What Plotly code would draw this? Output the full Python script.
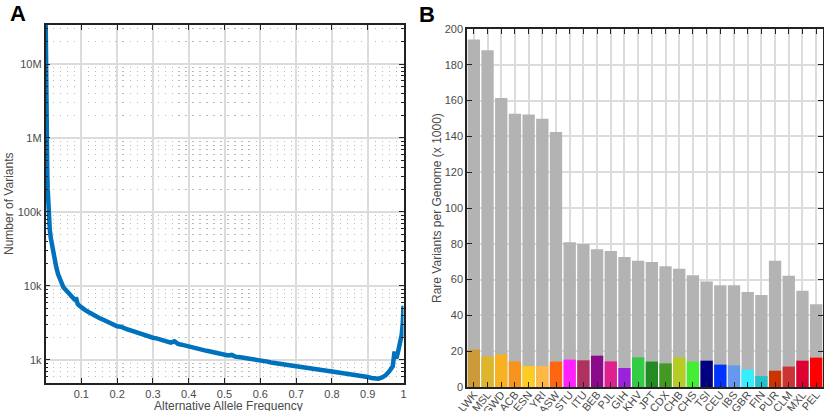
import plotly.graph_objects as go

# ---------------- Panel A: allele frequency spectrum ----------------
allele_freq = [
    0.0005, 0.001, 0.0015, 0.002, 0.003, 0.004, 0.005, 0.006, 0.008, 0.010,
    0.012, 0.015, 0.018, 0.021, 0.025, 0.030, 0.035, 0.040, 0.045, 0.050,
    0.055, 0.060, 0.065, 0.070, 0.075, 0.080, 0.083, 0.085, 0.088, 0.090,
    0.095, 0.10, 0.11, 0.12, 0.13, 0.14, 0.15, 0.16, 0.17, 0.18,
    0.19, 0.20, 0.21, 0.22, 0.23, 0.24, 0.25, 0.26, 0.27, 0.28,
    0.29, 0.30, 0.31, 0.32, 0.33, 0.34, 0.35, 0.36, 0.37, 0.38,
    0.39, 0.40, 0.41, 0.42, 0.43, 0.44, 0.45, 0.46, 0.47, 0.48,
    0.49, 0.50, 0.51, 0.52, 0.53, 0.54, 0.55, 0.56, 0.57, 0.58,
    0.59, 0.60, 0.61, 0.62, 0.63, 0.64, 0.65, 0.66, 0.67, 0.68,
    0.69, 0.70, 0.71, 0.72, 0.73, 0.74, 0.75, 0.76, 0.77, 0.78,
    0.79, 0.80, 0.81, 0.82, 0.83, 0.84, 0.85, 0.86, 0.87, 0.88,
    0.89, 0.90, 0.91, 0.92, 0.93, 0.94, 0.95, 0.96, 0.97, 0.975,
    0.98, 0.985, 0.99, 0.995, 0.998, 1.0,
]
variant_count = [
    36000000, 11000000, 4200000, 2300000, 1000000, 560000, 330000, 210000, 105000, 72000,
    57000, 44000, 36000, 30000, 24000, 18000, 14500, 12500, 10800, 9600,
    9000, 8500, 8000, 7600, 7100, 6500, 6400, 7000, 6000, 5700,
    5400, 5100, 4750, 4450, 4150, 3950, 3700, 3520, 3330, 3180,
    3000, 2850, 2820, 2650, 2580, 2500, 2400, 2330, 2250, 2170,
    2060, 2000, 1960, 1890, 1860, 1790, 1720, 1790, 1650, 1610,
    1560, 1510, 1480, 1440, 1400, 1370, 1330, 1300, 1270, 1240,
    1210, 1180, 1150, 1170, 1110, 1095, 1080, 1055, 1040, 1015,
    1000, 990, 965, 950, 925, 912, 890, 880, 862, 852,
    838, 830, 812, 800, 785, 775, 760, 752, 733, 722,
    712, 700, 690, 672, 662, 652, 640, 632, 620, 612,
    600, 590, 572, 566, 560, 580, 620, 700, 820, 1300,
    1050, 1300, 1600, 2200, 3200, 5400,
]
freq_ticks = [0.1, 0.2, 0.3, 0.4, 0.5, 0.6, 0.7, 0.8, 0.9, 1.0]
freq_tick_text = ["0.1", "0.2", "0.3", "0.4", "0.5", "0.6", "0.7", "0.8", "0.9", "1"]
count_ticks = [1e3, 1e4, 1e5, 1e6, 1e7]
count_tick_text = ["1k", "10k", "100k", "1M", "10M"]

# ---------------- Panel B: rare variants per genome ----------------
populations = [
    "LWK", "MSL", "GWD", "ACB", "ESN", "YRI", "ASW", "STU", "ITU", "BEB",
    "PJL", "GIH", "KHV", "JPT", "CDX", "CHB", "CHS", "TSI", "CEU", "IBS",
    "GBR", "FIN", "PUR", "CLM", "MXL", "PEL",
]
rare_total = [
    194.1, 188.1, 161.5, 152.7, 152.3, 149.9, 142.5, 80.8, 79.9, 76.9,
    76.0, 72.6, 70.6, 69.8, 67.4, 66.1, 62.4, 59.0, 56.8, 56.8,
    53.1, 51.4, 70.6, 62.2, 53.8, 46.2,
]
rare_private = [
    20.9, 17.1, 18.2, 14.3, 11.7, 11.7, 14.2, 15.3, 14.9, 17.5,
    14.3, 10.6, 16.6, 14.2, 13.2, 16.6, 14.2, 14.7, 12.5, 12.1,
    9.7, 6.1, 9.1, 11.4, 14.7, 16.4,
]
pop_colors = [
    "#CD9A3A", "#DDB62E", "#F8B220", "#F6941E", "#FECB22", "#FFB845", "#FF6611",
    "#FF22FF", "#B03060", "#8B0A8B", "#E0208F", "#9A22DD", "#33CC44", "#228B22",
    "#449922", "#B5CC22", "#44EE33", "#000080", "#0033FF", "#6699EE", "#33EEFF",
    "#22C4CC", "#CC3300", "#CC3333", "#DD0033", "#FF0000",
]
rare_ticks = list(range(0, 201, 20))

W, H = 824, 411
FONT = "Liberation Sans, Arial, Helvetica, sans-serif"
TICK_FONT = dict(family=FONT, size=11, color="#4a4a4a")


def px_x(p):
    return p / W


def px_y(p):
    return 1 - p / H


fig = go.Figure()

fig.add_trace(go.Scatter(
    x=allele_freq, y=variant_count, mode="lines",
    line=dict(color="#0072BD", width=4.5),
    xaxis="x", yaxis="y", showlegend=False,
))

fig.add_trace(go.Bar(
    x=populations, y=rare_total, marker=dict(color="#B3B3B3", line=dict(width=0)),
    xaxis="x2", yaxis="y2", showlegend=False,
))
fig.add_trace(go.Bar(
    x=populations, y=rare_private, marker=dict(color=pop_colors, line=dict(width=0)),
    xaxis="x2", yaxis="y2", showlegend=False,
))

# log-scale minor ticks (2..9 within each decade)
minor_vals = []
for e in range(2, 8):
    for m in range(2, 10):
        minor_vals.append(m * 10 ** e)

axis_common = dict(
    showline=True, linecolor="#222222", linewidth=1.5, mirror="ticks",
    ticks="inside", ticklen=5, tickcolor="#222222", tickwidth=1.2,
    tickfont=TICK_FONT, zeroline=False, automargin=False,
    gridcolor="#DCDCDC", gridwidth=1.5,
)

fig.update_layout(
    width=W, height=H,
    margin=dict(l=0, r=0, t=0, b=0, autoexpand=False),
    paper_bgcolor="white", plot_bgcolor="white",
    barmode="overlay", bargap=0.1,
    xaxis=dict(
        domain=[px_x(45.5), px_x(403.5)], anchor="y",
        range=[0, 1], tickmode="array", tickvals=freq_ticks, ticktext=freq_tick_text,
        showgrid=True, **axis_common,
    ),
    yaxis=dict(
        domain=[px_y(383), px_y(25)], anchor="x",
        type="log", range=[2.689, 7.527],
        tickmode="array", tickvals=count_ticks, ticktext=count_tick_text,
        showgrid=True,
        minor=dict(
            tickmode="array", tickvals=minor_vals, ticks="inside", ticklen=3,
            tickcolor="#222222", showgrid=True, gridcolor="#B8B8B8",
            griddash="1.5px,5.5px", gridwidth=1.2,
        ),
        **axis_common,
    ),
    xaxis2=dict(
        domain=[px_x(467), px_x(823)], anchor="y2",
        range=[-0.5, len(populations) - 0.5], tickangle=-50,
        ticklabelstandoff=-5,
        showgrid=True, **{**axis_common, "linewidth": 2},
    ),
    yaxis2=dict(
        domain=[px_y(387), px_y(29)], anchor="x2",
        range=[0, 200], tickmode="array", tickvals=rare_ticks,
        showgrid=True, **axis_common,
    ),
)

annotations = [
    dict(text="<b>A</b>", x=px_x(18), y=px_y(14), font=dict(family=FONT, size=22, color="black")),
    dict(text="<b>B</b>", x=px_x(427), y=px_y(15), font=dict(family=FONT, size=22, color="black")),
    dict(text="Alternative Allele Frequency", x=px_x(228), y=px_y(406),
         font=dict(family=FONT, size=12, color="#4a4a4a")),
    dict(text="Number of Variants", x=px_x(9), y=px_y(204), textangle=-90,
         font=dict(family=FONT, size=12, color="#4a4a4a")),
    dict(text="Rare Variants per Genome (x 1000)", x=px_x(437), y=px_y(208), textangle=-90,
         font=dict(family=FONT, size=12, color="#4a4a4a")),
]
for a in annotations:
    a.update(xref="paper", yref="paper", showarrow=False, xanchor="center", yanchor="middle")
fig.update_layout(annotations=annotations)

fig.write_html("out.html")
